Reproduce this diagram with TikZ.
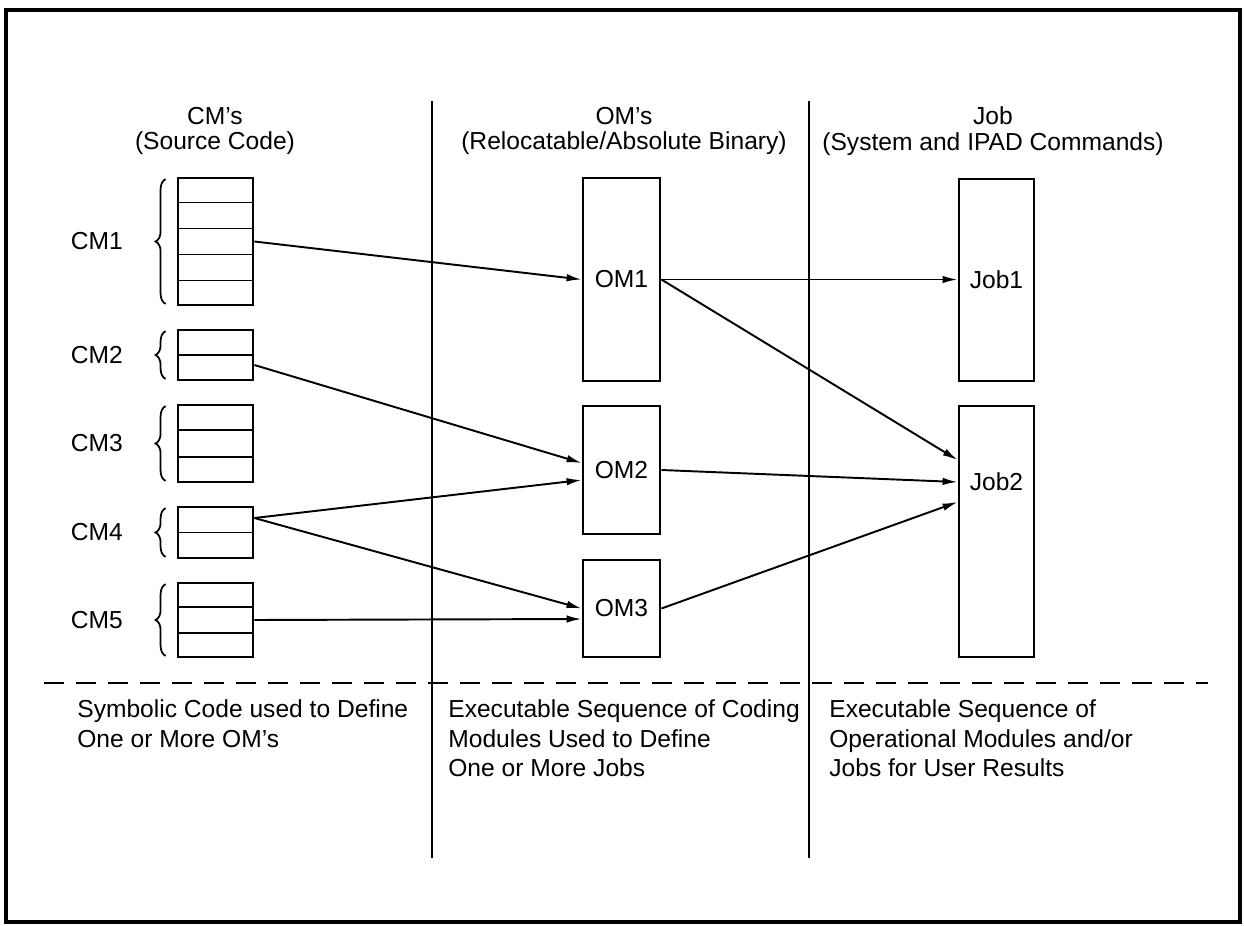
\documentclass[tikz,border=0pt]{standalone}
\usepackage{fontspec}
\setmainfont{Liberation Sans}
\usetikzlibrary{positioning,calc,arrows.meta,decorations.pathreplacing}

\begin{document}
\begin{tikzpicture}[x=0.02cm,y=-0.02cm,
   font=\fontsize{14}{17}\selectfont,
   box/.style={draw, line width=1.6pt, minimum width=1.5cm, inner sep=0pt},
   link/.style={-{Latex[length=3mm,width=1.5mm]}, line width=1.1pt},
   curly/.style={decorate, decoration={brace, amplitude=2mm}, line width=1pt},
   rowline/.style={line width=0.9pt},
   note/.style={anchor=north west, align=left, inner sep=0pt}]
   \useasboundingbox (0,0) rectangle (1244,926);
   \draw[line width=2pt] (6,10) rectangle (1240,922);

   % column headings
   \node[align=center, font=\fontsize{14}{14.7}\selectfont] (hcm) at (215,131) {CM's\\(Source Code)};
   \node[align=center, font=\fontsize{14}{14.7}\selectfont] (hom) at (624,131) {OM's\\(Relocatable/Absolute Binary)};
   \node[align=center, font=\fontsize{14}{14.7}\selectfont] (hjob) at (993,131) {Job\\(System and IPAD Commands)};

   \draw[line width=1.1pt] (432,101) -- (432,858);
   \draw[line width=1.1pt] (809,101) -- (809,858);
   \draw[line width=1.1pt, dash pattern=on 0.4cm off 0.24cm] (44,683) -- (1208,683);

   % coding modules
   \foreach \name/\txt/\y/\h/\rows in {cm1/CM1/241.5/2.54/5, cm2/CM2/355/1/2,
         cm3/CM3/443.5/1.54/3, cm4/CM4/532.5/1.02/2, cm5/CM5/620/1.48/3} {
      \node[box, minimum height=\h cm] (\name) at (215.5,\y) {};
      \pgfmathtruncatemacro\last{\rows-1}
      \foreach \k in {1,...,\last}
         \draw[rowline] ($(\name.north west)!\k/\rows!(\name.south west)$) -- ($(\name.north east)!\k/\rows!(\name.south east)$);
      \draw[curly] ([xshift=-2.2mm,yshift=0.5mm]\name.south west) -- ([xshift=-2.2mm,yshift=-0.5mm]\name.north west);
      \node[left=0.95cm of \name] (\name-lab) {\txt};
   }

   % operational modules and jobs
   \node[box, minimum width=1.54cm, minimum height=4.06cm] (om1) at (621.5,279.5) {OM1};
   \node[box, minimum width=1.54cm, minimum height=2.56cm] (om2) at (621.5,470) {OM2};
   \node[box, minimum width=1.54cm, minimum height=1.94cm] (om3) at (621.5,608.5) {OM3};
   \node[box, minimum height=4.04cm] (job1) at (996.5,280) {Job1};
   \node[box, minimum height=5.02cm] (job2) at (996.5,531.5) {};
   \node (job2-lab) at ([yshift=1cm]job2.center) {Job2};

   \draw[link] (cm1.east) -- (om1.west);
   \draw[link] ([yshift=-2mm]cm2.east) -- ([yshift=1.4mm]om2.west);
   \draw[link] ([yshift=2.9mm]cm4.east) -- ([yshift=-2mm]om2.west);
   \draw[link] ([yshift=2.9mm]cm4.east) -- (om3.west);
   \draw[link] (cm5.east) -- ([yshift=-2.1mm]om3.west);
   \draw[link] (om1.east) -- (om1.east -| job1.west);
   \draw[link] (om1.east) -- ([yshift=14.3mm]job2.west);
   \draw[link] (om2.east) -- ([yshift=9.9mm]job2.west);
   \draw[link] (om3.east) -- ([yshift=5.9mm]job2.west);

   % descriptions
   \node[note] (dcm) at (77,699) {Symbolic Code used to Define\\One or More OM's};
   \node[note] (dom) at (448,699) {Executable Sequence of Coding\\Modules Used to Define\\One or More Jobs};
   \node[note] (djob) at (829,699) {Executable Sequence of\\Operational Modules and/or\\Jobs for User Results};
\end{tikzpicture}
\end{document}
